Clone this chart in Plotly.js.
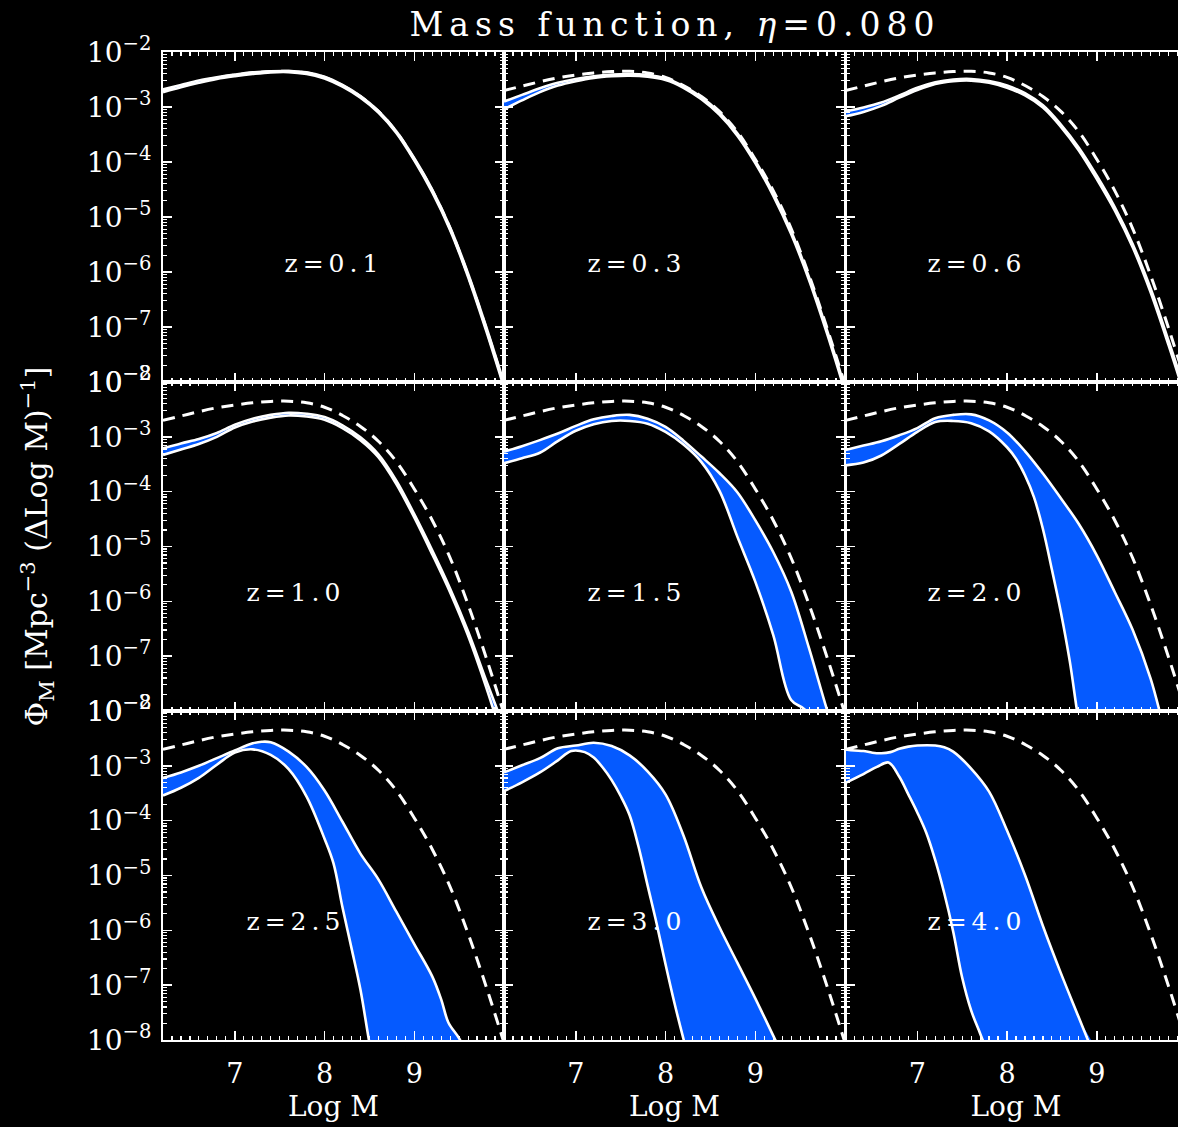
<!DOCTYPE html>
<html>
<head>
<meta charset="utf-8">
<script src="https://cdn.plot.ly/plotly-3.0.1.min.js"></script>
<style>
  html, body { margin:0; padding:0; background:#000; overflow:hidden; }
  #chart { width:1190px; height:1127px; }
  #chart .gtitle { letter-spacing: 6px; }
  #chart .annotation-text { letter-spacing: 5px; }
</style>
</head>
<body>
<div id="chart"></div>
<script>
// ---------------- DATA (log10 of Phi_M) ----------------
const gridM = [6.2,6.4,6.6,6.8,7.0,7.2,7.4,7.6,7.8,8.0,8.2,8.4,8.6,8.8,9.0,9.2,9.4,9.6,9.8,10.0];

// dashed reference curve (local mass function)
const refLog = [-2.70,-2.62,-2.54,-2.47,-2.42,-2.38,-2.355,-2.35,-2.38,-2.46,-2.61,-2.81,-3.08,-3.45,-3.95,-4.52,-5.21,-6.06,-7.02,-8.05];

// z = 0.1
const z01Up = [-2.68,-2.60,-2.52,-2.46,-2.41,-2.37,-2.35,-2.345,-2.37,-2.45,-2.60,-2.80,-3.07,-3.44,-3.93,-4.50,-5.19,-6.03,-6.99,-8.02];
const z01Lo = [-2.73,-2.64,-2.56,-2.49,-2.44,-2.40,-2.37,-2.365,-2.40,-2.48,-2.63,-2.83,-3.10,-3.47,-3.97,-4.55,-5.24,-6.09,-7.06,-8.10];
// z = 0.3
const z03Up = [-2.90,-2.78,-2.66,-2.56,-2.49,-2.44,-2.41,-2.40,-2.42,-2.48,-2.62,-2.82,-3.10,-3.48,-3.98,-4.56,-5.26,-6.10,-7.06,-8.10];
const z03Lo = [-3.04,-2.88,-2.73,-2.61,-2.53,-2.47,-2.44,-2.43,-2.45,-2.51,-2.65,-2.86,-3.14,-3.52,-4.02,-4.61,-5.31,-6.15,-7.12,-8.17];
// z = 0.6
const z06Up = [-3.08,-3.01,-2.92,-2.79,-2.65,-2.55,-2.50,-2.49,-2.53,-2.61,-2.75,-2.97,-3.32,-3.74,-4.25,-4.82,-5.49,-6.30,-7.25,-8.25];
const z06Lo = [-3.17,-3.09,-2.98,-2.83,-2.69,-2.58,-2.53,-2.52,-2.56,-2.65,-2.79,-3.01,-3.36,-3.79,-4.31,-4.88,-5.55,-6.37,-7.33,-8.35];
// z = 1.0
const z10Up = [-3.21,-3.12,-3.04,-2.93,-2.78,-2.67,-2.60,-2.56,-2.58,-2.64,-2.79,-3.01,-3.32,-3.80,-4.41,-5.07,-5.77,-6.55,-7.44,-8.30];
const z10Lo = [-3.33,-3.23,-3.13,-3.00,-2.83,-2.72,-2.65,-2.61,-2.63,-2.69,-2.84,-3.06,-3.37,-3.86,-4.47,-5.14,-5.84,-6.63,-7.56,-8.60];
// z = 1.5
const z15Up = [-3.27,-3.17,-3.06,-2.94,-2.80,-2.68,-2.62,-2.60,-2.67,-2.82,-3.07,-3.36,-3.66,-4.01,-4.52,-5.10,-5.82,-6.86,-7.98,-9.00];
const z15LoM = [6.2,6.4,6.6,6.8,7.0,7.2,7.4,7.6,7.8,8.0,8.2,8.4,8.6,8.8,9.0,9.2,9.4,9.55,9.7];
const z15Lo  = [-3.48,-3.39,-3.29,-3.08,-2.89,-2.77,-2.71,-2.71,-2.76,-2.91,-3.14,-3.46,-3.98,-4.82,-5.64,-6.61,-7.80,-7.97,-8.40];
// z = 2.0
const z20Up = [-3.24,-3.16,-3.08,-2.97,-2.84,-2.66,-2.60,-2.59,-2.70,-2.92,-3.26,-3.67,-4.12,-4.59,-5.16,-5.83,-6.52,-7.41,-8.60,-9.50];
const z20LoM = [6.2,6.4,6.6,6.8,7.0,7.2,7.4,7.6,7.8,8.0,8.1,8.2,8.3,8.4,8.5,8.6,8.7,8.8,8.9];
const z20Lo  = [-3.52,-3.47,-3.34,-3.13,-2.91,-2.73,-2.71,-2.75,-2.90,-3.19,-3.40,-3.70,-4.10,-4.68,-5.42,-6.20,-7.10,-8.20,-9.00];
// z = 2.5
const z25UpM = [6.2,6.4,6.6,6.8,7.0,7.2,7.3,7.4,7.6,7.8,8.0,8.2,8.4,8.6,8.8,9.0,9.2,9.3,9.38,9.5,9.6];
const z25Up  = [-3.22,-3.12,-3.00,-2.86,-2.72,-2.59,-2.56,-2.57,-2.74,-3.02,-3.45,-4.02,-4.60,-5.07,-5.66,-6.25,-6.84,-7.26,-7.68,-7.97,-8.30];
const z25LoM = [6.2,6.4,6.6,6.8,7.0,7.2,7.4,7.6,7.8,8.0,8.1,8.2,8.3,8.4,8.5,8.6];
const z25Lo  = [-3.54,-3.40,-3.22,-2.98,-2.76,-2.70,-2.80,-3.06,-3.56,-4.33,-4.78,-5.58,-6.32,-7.08,-8.05,-8.90];
// z = 3.0
const z30UpM = [6.2,6.4,6.6,6.8,7.0,7.2,7.4,7.6,7.8,8.0,8.2,8.4,8.6,8.8,9.0,9.2,9.4];
const z30Up  = [-3.12,-2.99,-2.86,-2.68,-2.63,-2.58,-2.64,-2.81,-3.10,-3.52,-4.27,-5.22,-5.94,-6.59,-7.24,-7.92,-8.60];
const z30LoM = [6.2,6.4,6.6,6.8,6.95,7.1,7.2,7.3,7.4,7.5,7.6,7.7,7.8,7.9,8.0,8.1,8.2,8.3];
const z30Lo  = [-3.46,-3.30,-3.12,-2.90,-2.73,-2.75,-2.85,-3.03,-3.26,-3.55,-3.90,-4.48,-5.18,-5.87,-6.62,-7.33,-7.98,-8.60];
// z = 4.0
const z40UpM = [6.2,6.3,6.4,6.5,6.6,6.7,6.8,6.9,7.0,7.2,7.3,7.4,7.6,7.8,8.0,8.2,8.4,8.6,8.8,9.0];
const z40Up  = [-2.70,-2.72,-2.73,-2.76,-2.77,-2.75,-2.69,-2.65,-2.63,-2.63,-2.66,-2.74,-3.05,-3.47,-4.18,-4.99,-5.92,-6.78,-7.59,-8.40];
const z40LoM = [6.2,6.4,6.55,6.68,6.8,6.9,7.0,7.1,7.2,7.3,7.4,7.5,7.6,7.7,7.8];
const z40Lo  = [-3.31,-3.15,-3.02,-2.94,-3.20,-3.52,-3.85,-4.22,-4.72,-5.32,-6.02,-6.86,-7.46,-7.88,-8.30];

const panelLabels = ['z=0.1','z=0.3','z=0.6','z=1.0','z=1.5','z=2.0','z=2.5','z=3.0','z=4.0'];
const xTickVals = [7, 8, 9];
const xTickText = ['7', '8', '9'];
const yTickVals = [1e-2, 1e-3, 1e-4, 1e-5, 1e-6, 1e-7, 1e-8];
const yTickText = ['10<sup>\u22122</sup>','10<sup>\u22123</sup>','10<sup>\u22124</sup>','10<sup>\u22125</sup>','10<sup>\u22126</sup>','10<sup>\u22127</sup>','10<sup>\u22128</sup>'];

// ---------------- LAYOUT / STYLE ----------------
const panels = [
  {upM: gridM,  up: z01Up, loM: gridM,  lo: z01Lo},
  {upM: gridM,  up: z03Up, loM: gridM,  lo: z03Lo},
  {upM: gridM,  up: z06Up, loM: gridM,  lo: z06Lo},
  {upM: gridM,  up: z10Up, loM: gridM,  lo: z10Lo},
  {upM: gridM,  up: z15Up, loM: z15LoM, lo: z15Lo},
  {upM: gridM,  up: z20Up, loM: z20LoM, lo: z20Lo},
  {upM: z25UpM, up: z25Up, loM: z25LoM, lo: z25Lo},
  {upM: z30UpM, up: z30Up, loM: z30LoM, lo: z30Lo},
  {upM: z40UpM, up: z40Up, loM: z40LoM, lo: z40Lo}
];
const labelPos = [8.11, 7.68, 7.67, 7.68, 7.68, 7.67, 7.68, 7.68, 7.67];
const labelLogY = -5.84;

const W = 1190, H = 1127;
const colPx = [[163,504],[504,845],[845.5,1186.5]];
const rowPx = [[52,382],[382,711],[711,1040]];
const BLUE = 'rgb(5,90,255)';
const FONT = 'DejaVu Serif';
const SMOOTH = 1.0;

const toPhi = a => a.map(v => Math.pow(10, v));

// minor tick positions (axis decoration)
const xMinor = [];
for (let k = 63; k <= 99; k++) if (k % 10 !== 0) xMinor.push(k / 10);
const yMinor = [];
for (let e = -8; e < -2; e++) for (let d = 2; d <= 9; d++) yMinor.push(d * Math.pow(10, e));

const traces = [];
const layout = {
  width: W, height: H,
  margin: {l:0, r:0, t:0, b:0},
  paper_bgcolor: '#000', plot_bgcolor: '#000',
  showlegend: false,
  font: {family: FONT, color: '#fff'},
  title: {
    text: 'Mass function, <i>\u03b7</i>=0.080',
    font: {family: FONT, size: 33, color: '#fff'},
    xref: 'container', yref: 'container',
    x: 675 / W, y: 1 - 24 / H, xanchor: 'center', yanchor: 'middle'
  },
  annotations: []
};

panels.forEach((p, i) => {
  const s = i === 0 ? '' : String(i + 1);
  const row = Math.floor(i / 3), col = i % 3;
  const xa = 'x' + s, ya = 'y' + s;

  // blue band between the two bounds
  traces.push({
    x: p.upM.concat(p.loM.slice().reverse()),
    y: toPhi(p.up.concat(p.lo.slice().reverse())),
    xaxis: xa, yaxis: ya, mode: 'lines', fill: 'toself',
    fillcolor: BLUE, line: {width: 0, color: 'rgba(0,0,0,0)', shape: 'spline', smoothing: SMOOTH}, hoverinfo: 'skip'
  });
  // dashed reference
  traces.push({
    x: gridM, y: toPhi(refLog), xaxis: xa, yaxis: ya, mode: 'lines',
    line: {color: '#fff', width: 3, dash: '12px,8px', shape: 'spline', smoothing: SMOOTH}, hoverinfo: 'skip'
  });
  // upper & lower bounds
  traces.push({
    x: p.upM, y: toPhi(p.up), xaxis: xa, yaxis: ya, mode: 'lines',
    line: {color: '#fff', width: 2.6, shape: 'spline', smoothing: SMOOTH}, hoverinfo: 'skip'
  });
  traces.push({
    x: p.loM, y: toPhi(p.lo), xaxis: xa, yaxis: ya, mode: 'lines',
    line: {color: '#fff', width: 2.6, shape: 'spline', smoothing: SMOOTH}, hoverinfo: 'skip'
  });

  const xdom = [colPx[col][0] / W, colPx[col][1] / W];
  const ydom = [1 - rowPx[row][1] / H, 1 - rowPx[row][0] / H];

  const xaxis = {
    domain: xdom, anchor: ya, range: [6.2, 10.0],
    showgrid: false, zeroline: false,
    showline: true, linecolor: '#fff', linewidth: 2, mirror: 'allticks',
    ticks: 'inside', ticklen: 9, tickwidth: 1.5, tickcolor: '#fff',
    tickmode: 'array', tickvals: xTickVals, ticktext: xTickText,
    minor: {tickmode: 'array', tickvals: xMinor, ticks: 'inside', ticklen: 4, tickwidth: 1.2, tickcolor: '#fff', showgrid: false},
    showticklabels: row === 2,
    tickfont: {family: FONT, size: 27, color: '#fff'},
    ticklabelstandoff: 9
  };
  if (row === 2) {
    xaxis.title = {text: 'Log M', font: {family: FONT, size: 28, color: '#fff'}, standoff: 8};
  }
  const yaxis = {
    domain: ydom, anchor: xa, type: 'log', range: [-8, -2],
    showgrid: false, zeroline: false,
    showline: true, linecolor: '#fff', linewidth: 2, mirror: 'allticks',
    ticks: 'inside', ticklen: 9, tickwidth: 1.5, tickcolor: '#fff',
    tickmode: 'array', tickvals: yTickVals, ticktext: yTickText,
    minor: {tickmode: 'array', tickvals: yMinor, ticks: 'inside', ticklen: 4, tickwidth: 1.2, tickcolor: '#fff', showgrid: false},
    showticklabels: col === 0,
    tickfont: {family: FONT, size: 28, color: '#fff'},
    ticklabelstandoff: 4
  };
  if (i === 3) {
    yaxis.title = {text: '\u03a6<sub>M</sub> [Mpc<sup>\u22123</sup> (\u0394Log M)<sup>\u22121</sup>]',
                   font: {family: FONT, size: 30, color: '#fff'}, standoff: 30};
  }
  layout['xaxis' + s] = xaxis;
  layout['yaxis' + s] = yaxis;

  layout.annotations.push({
    xref: xa, yref: ya, x: labelPos[i], y: labelLogY,
    text: panelLabels[i], showarrow: false, xanchor: 'center', yanchor: 'middle',
    font: {family: FONT, size: 25, color: '#fff'}
  });
});

Plotly.newPlot('chart', traces, layout, {displayModeBar: false, staticPlot: true});
</script>
</body>
</html>
